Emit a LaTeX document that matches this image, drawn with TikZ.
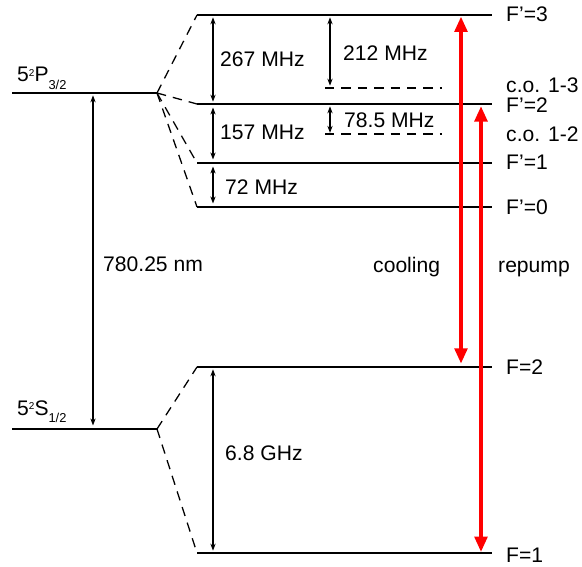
\documentclass[tikz,border=0pt]{standalone}
\usepackage{fontspec}
\setmainfont{Liberation Sans}
\usetikzlibrary{arrows.meta}

\newcommand{\hoch}[1]{\raisebox{4.3pt}{\fontsize{8.5}{9}\selectfont #1}}
\newcommand{\tief}[1]{\raisebox{-6pt}{\fontsize{11}{12}\selectfont #1}}

\tikzset{
    niveau/.style={line width=1.3pt},
    verbind/.style={line width=1.1pt, dash pattern=on 8pt off 6pt},
    pfeil/.style={line width=0.9pt, {Stealth[length=6pt,width=4.5pt]}-{Stealth[length=6pt,width=4.5pt]}},
    laser/.style={red, line width=2.6pt, {Triangle[length=13pt,width=11pt]}-{Triangle[length=13pt,width=11pt]}},
    txt/.style={anchor=base west, inner sep=0pt, font=\fontsize{18}{21}\selectfont}
}

\begin{document}
\begin{tikzpicture}[x=0.03cm, y=-0.03cm]
    \useasboundingbox (0,0) rectangle (582,567);
    \path coordinate (P3l) at (12,93)
        coordinate (P3r) at (157,93)
        coordinate (S1l) at (12,429)
        coordinate (S1r) at (157,429)
        coordinate (F3l) at (197,15)  coordinate (F3r) at (492,15)
        coordinate (F2l) at (197,104) coordinate (F2r) at (492,104)
        coordinate (F1l) at (197,163) coordinate (F1r) at (492,163)
        coordinate (F0l) at (197,207) coordinate (F0r) at (492,207)
        coordinate (C13l) at (325,88) coordinate (C13r) at (442,88)
        coordinate (C12l) at (325,134) coordinate (C12r) at (442,134)
        coordinate (G2l) at (197,367) coordinate (G2r) at (492,367)
        coordinate (G1l) at (197,553) coordinate (G1r) at (492,553)
        coordinate (nx) at (93,0)
        coordinate (ax) at (213,0)
        coordinate (bx) at (330,0)
        coordinate (kx) at (461,0)
        coordinate (rx) at (481,0);
    \path node[txt] (lP3) at (17,82) {5\hoch{2}P\tief{3/2}}
        node[txt] (lS1) at (17,415) {5\hoch{2}S\tief{1/2}}
        node[txt] (lnm) at (103,272) {780.25 nm}
        node[txt] (l267) at (220,67) {267 MHz}
        node[txt] (l157) at (220,140) {157 MHz}
        node[txt] (l72) at (225,195) {72 MHz}
        node[txt] (l212) at (343,61) {212 MHz}
        node[txt] (l785) at (344,128) {78.5 MHz}
        node[txt] (l68) at (225,460) {6.8 GHz}
        node[txt] (lkuehl) at (373,273) {cooling}
        node[txt] (lrep) at (498,273) {repump}
        node[txt] (lF3) at (506,22) {F’=3}
        node[txt] (lC13) at (506,93) {c.o. 1-3}
        node[txt] (lF2) at (506,113) {F’=2}
        node[txt] (lC12) at (506,142) {c.o. 1-2}
        node[txt] (lF1) at (506,170) {F’=1}
        node[txt] (lF0) at (506,215) {F’=0}
        node[txt] (lG2) at (506,375) {F=2}
        node[txt] (lG1) at (506,562) {F=1};
    \draw[niveau] (P3l) -- (P3r);
    \draw[niveau] (S1l) -- (S1r);
    \draw[niveau] (F3l) -- (F3r);
    \draw[niveau] (F2l) -- (F2r);
    \draw[niveau] (F1l) -- (F1r);
    \draw[niveau] (F0l) -- (F0r);
    \draw[niveau] (G2l) -- (G2r);
    \draw[niveau] (G1l) -- (G1r);
    \draw[verbind] (C13l) -- (C13r);
    \draw[verbind] (C12l) -- (C12r);
    \draw[verbind] (P3r) -- (F3l);
    \draw[verbind] (P3r) -- (F2l);
    \draw[verbind] (P3r) -- (F1l);
    \draw[verbind] (P3r) -- (F0l);
    \draw[verbind] (S1r) -- (G2l);
    \draw[verbind] (S1r) -- (G1l);
    \draw[pfeil, shorten <=2pt, shorten >=3pt] (nx |- P3l) -- (nx |- S1l);
    \draw[pfeil, shorten <=2pt, shorten >=2pt] (ax |- F3l) -- (ax |- F2l);
    \draw[pfeil, shorten <=3pt, shorten >=3pt] (ax |- F2l) -- (ax |- F1l);
    \draw[pfeil, shorten <=3pt, shorten >=3pt] (ax |- F1l) -- (ax |- F0l);
    \draw[pfeil, shorten <=2pt, shorten >=2pt] (ax |- G2l) -- (ax |- G1l);
    \draw[pfeil, shorten <=2pt, shorten >=2pt] (bx |- F3l) -- (bx |- C13l);
    \draw[pfeil, shorten <=2pt, shorten >=1pt] (bx |- F2l) -- (bx |- C12l);
    \draw[laser, shorten <=3pt, shorten >=1.5pt] (kx |- G2l) -- (kx |- F3l);
    \draw[laser, shorten <=1pt, shorten >=2pt] (rx |- G1l) -- (rx |- F2l);
\end{tikzpicture}
\end{document}
